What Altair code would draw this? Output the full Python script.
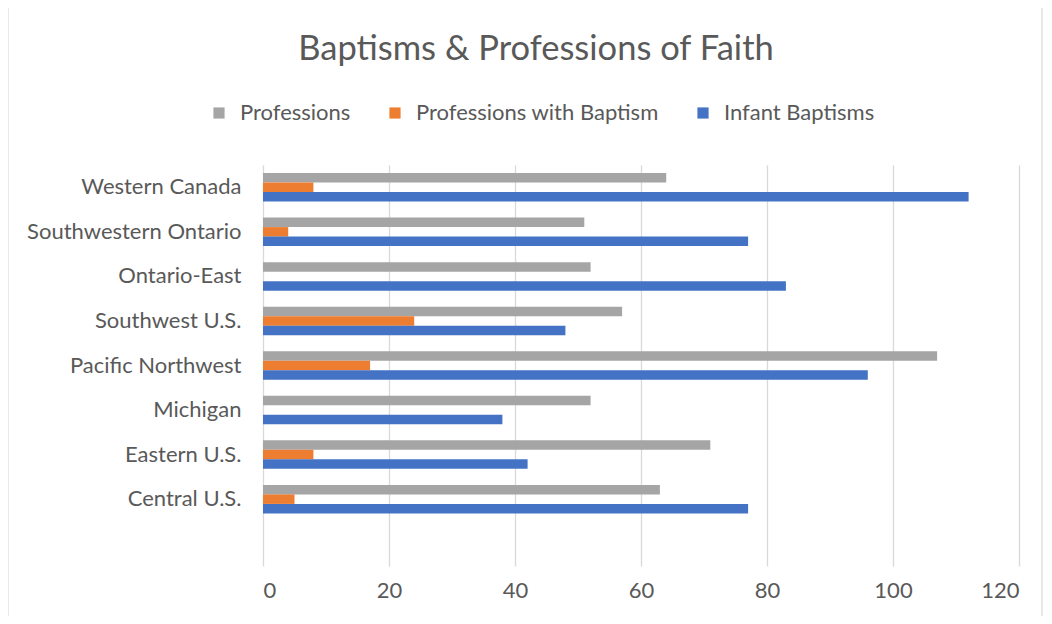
import altair as alt
import pandas as pd

regions = ["Western Canada", "Southwestern Ontario", "Ontario-East", "Southwest U.S.",
           "Pacific Northwest", "Michigan", "Eastern U.S.", "Central U.S."]
series = ["Professions", "Professions with Baptism", "Infant Baptisms"]
professions = [64, 51, 52, 57, 107, 52, 71, 63]
prof_with_baptism = [8, 4, 0, 24, 17, 0, 8, 5]
infant_baptisms = [112, 77, 83, 48, 96, 38, 42, 77]
colors = ["#a5a5a5", "#ed7d31", "#4472c4"]
x_ticks = [0, 20, 40, 60, 80, 100, 120]

rows = []
for i, r in enumerate(regions):
    for s, vals in zip(series, [professions, prof_with_baptism, infant_baptisms]):
        rows.append({"Region": r, "Series": s, "Value": vals[i]})
df = pd.DataFrame(rows)

FONT = "Lato"
TXT = "#595959"
FS = 22

bars = alt.Chart(df).mark_bar(size=9.5).encode(
    y=alt.Y("Region:N", sort=regions + [" "],
            scale=alt.Scale(domain=regions + [" "], paddingInner=0.36, paddingOuter=0.18),
            axis=alt.Axis(title=None, domain=False, ticks=False, labelPadding=22, labelLimit=0,
                          labelFontSize=FS, labelColor=TXT, labelFont=FONT)),
    yOffset=alt.YOffset("Series:N", sort=series, scale=alt.Scale(domain=series, paddingInner=0, paddingOuter=0)),
    x=alt.X("Value:Q", scale=alt.Scale(domain=[0, 120], nice=False),
            axis=alt.Axis(title=None, values=x_ticks, domain=False, ticks=False,
                          grid=True, gridColor="#d9d9d9", gridWidth=1.3,
                          labelPadding=14, labelFontSize=FS, labelColor=TXT, labelFont=FONT)),
    color=alt.Color("Series:N", sort=series,
                    scale=alt.Scale(domain=series, range=colors),
                    legend=alt.Legend(title=None, orient="none", direction="horizontal",
                                      legendX=-55, legendY=-63, labelLimit=0,
                                      symbolType="square", symbolSize=125, symbolStrokeWidth=0,
                                      labelFontSize=FS, labelColor=TXT, labelFont=FONT,
                                      labelOffset=10, columnPadding=33)),
)

frame = alt.Chart(pd.DataFrame({"k": [0]})).mark_rect(
    fill=None, stroke="#d9d9d9", strokeWidth=1.2, clip=False
).encode(x=alt.value(-255), x2=alt.value(779), y=alt.value(-161), y2=alt.value(455))

chart = alt.layer(frame, bars).properties(
    width=756, height=401,
    autosize=alt.AutoSizeParams(type="none"),
    padding={"left": 255, "top": 157, "right": 25, "bottom": 50},
    title=alt.TitleParams("Baptisms & Professions of Faith", fontSize=34.5, font=FONT,
                          color=TXT, fontWeight="normal", anchor="middle", dx=-105,
                          offset=-64),
).configure_view(stroke=None)

chart.save("out.html", embed_options={"renderer": "svg", "actions": False})
